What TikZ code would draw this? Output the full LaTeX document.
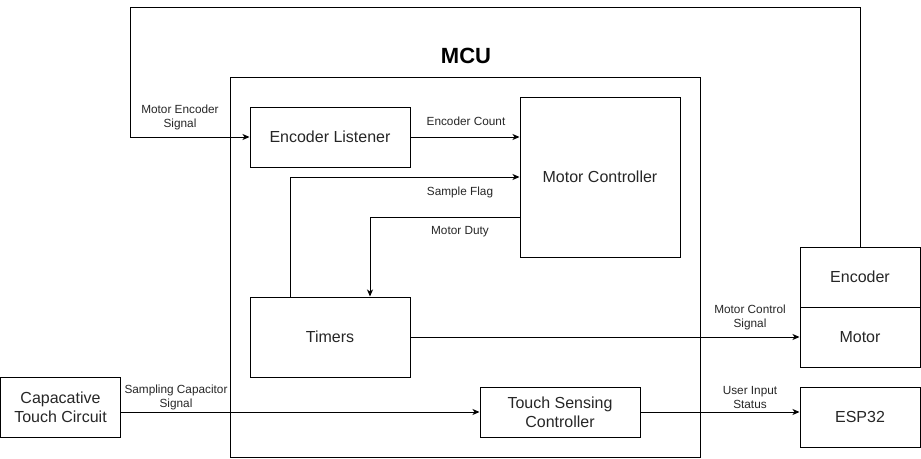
\documentclass[tikz,border=0pt]{standalone}
\usepackage{fontspec}
\setmainfont{Liberation Sans}
\usetikzlibrary{arrows.meta,calc}
\begin{document}
\begin{tikzpicture}[x=1pt,y=-1pt,
  box/.style={draw, line width=1pt, inner sep=0pt, align=center,
    font=\fontsize{16}{19}\selectfont, text=black!85},
  conn/.style={line width=1pt, -{Stealth[length=7pt,width=6pt,inset=2pt]}},
  lbl/.style={inner sep=0pt, align=center, font=\fontsize{11.8}{14}\selectfont, text=black!85},
  ttl/.style={inner sep=0pt, font=\fontsize{22}{26}\selectfont\bfseries}]
\useasboundingbox (0,0) rectangle (921,458);
% MCU frame
\node[box, minimum width=470pt, minimum height=380pt] (mcu) at (465,267) {};
\node[ttl] (mcut) at (466,56) {MCU};
% blocks
\node[box, minimum width=160pt, minimum height=60pt] (el) at (330,137) {Encoder Listener};
\node[box, minimum width=160pt, minimum height=160pt] (mc) at (600,177) {Motor Controller};
\node[box, minimum width=160pt, minimum height=80pt] (tim) at (330,337) {Timers};
\node[box, minimum width=160pt, minimum height=50pt] (tsc) at (560,412) {Touch Sensing\\Controller};
\node[box, minimum width=120pt, minimum height=60pt] (cap) at (60.5,407) {Capacative\\Touch Circuit};
\node[box, minimum width=120pt, minimum height=60pt] (enc) at (860,277) {Encoder};
\node[box, minimum width=120pt, minimum height=60pt] (mot) at (860,337) {Motor};
\node[box, minimum width=120pt, minimum height=60pt] (esp) at (860,417) {ESP32};
% connectors
\draw[conn] (enc.north) |- (130,7) |- (el.west);
\draw[conn] (el.east) -- (el.east -| mc.west);
\draw[conn] ([xshift=-40pt]tim.north) |- (mc.west);
\draw[conn] ([yshift=-40pt]mc.west) -| ([xshift=40pt]tim.north);
\draw[conn] (tim.east) -- (mot.west);
\draw[conn] (cap.east |- tsc.west) -- (tsc.west);
\draw[conn] (tsc.east) -- (tsc.east -| esp.west);
% labels
\node[lbl] (l1) at (180,117) {Motor Encoder\\Signal};
\node[lbl] (l2) at (466,121) {Encoder Count};
\node[lbl] (l3) at (460,192) {Sample Flag};
\node[lbl] (l4) at (460,232) {Motor Duty};
\node[lbl] (l5) at (750,317) {Motor Control\\Signal};
\node[lbl] (l6) at (176,397) {Sampling Capacitor\\Signal};
\node[lbl] (l7) at (750,397) {User Input\\Status};
\end{tikzpicture}
\end{document}
